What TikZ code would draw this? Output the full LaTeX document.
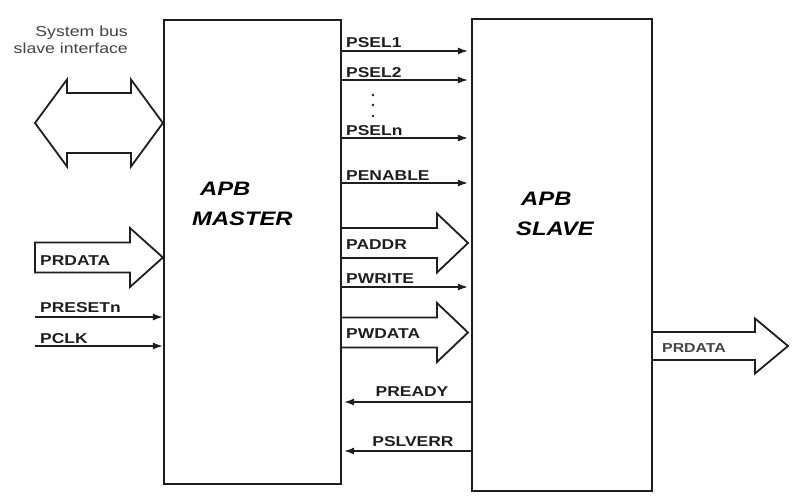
\documentclass[tikz,border=0pt]{standalone}
\usepackage{fontspec}
\setmainfont{Liberation Sans}
\newfontfamily\widefont[FakeStretch=1.22]{Liberation Sans}
\usetikzlibrary{arrows.meta}
\definecolor{ink}{HTML}{1E1E1E}
\definecolor{txt}{HTML}{1F1F1F}
\definecolor{soft}{HTML}{444444}
\begin{document}
\begin{tikzpicture}[x=1pt,y=-1pt,
  blockbox/.style={draw=ink, line width=2.2pt, fill=none, inner sep=0pt},
  sig/.style={draw=ink, line width=1.4pt, -{Latex[length=10pt,width=7pt]}},
  fat/.style={draw=ink, line width=1.8pt, line join=miter, fill=white},
  lbl/.style={text=txt, inner sep=0pt, font=\widefont\bfseries\fontsize{14.3}{14}\selectfont},
  title/.style={text=black, inner sep=0pt, font=\widefont\bfseries\itshape\fontsize{19.5}{19}\selectfont},
  note/.style={text=soft, inner sep=0pt, align=right, font=\widefont\fontsize{14.5}{17}\selectfont}
]
\useasboundingbox[fill=white] (0,0) rectangle (800,498);

% blocks
\node[blockbox, minimum width=177pt, minimum height=464pt] (master) at (252.5,252) {};
\node[blockbox, minimum width=180pt, minimum height=472pt] (slave) at (562,255) {};

\node[title, anchor=base west] (mt1) at (200,195) {APB};
\node[title, anchor=base west] (mt2) at (192,225) {MASTER};
\node[title, anchor=base west] (st1) at (521,205) {APB};
\node[title, anchor=base west] (st2) at (516,235) {SLAVE};

% system bus interface
\node[note, anchor=base east] (sb1) at (128,36) {System bus};
\node[note, anchor=base east] (sb2) at (128,53) {slave interface};
\draw[fat] (35,123) -- (67,79.5) -- (67,93) -- (131,93) -- (131,79.5)
  -- (master.west |- 0,123) -- (131,166.5) -- (131,153) -- (67,153) -- (67,166.5) -- cycle;

% PRDATA input
\draw[fat] (35,242.5) -- (130,242.5) -- (130,228) -- (master.west |- 0,257.5)
  -- (130,287) -- (130,272.5) -- (35,272.5) -- cycle;
\node[lbl, anchor=base west] (prdin) at (40,265) {PRDATA};

% PRESETn, PCLK
\coordinate (rst) at (35,317);
\coordinate (clk) at (35,346);
\draw[sig] (rst) -- (master.west |- rst);
\draw[sig] (clk) -- (master.west |- clk);
\node[lbl, anchor=base west] (rstl) at (40,312) {PRESETn};
\node[lbl, anchor=base west] (clkl) at (40,343) {PCLK};

% master -> slave single signals
\coordinate (y1) at (0,51);
\coordinate (y2) at (0,80);
\coordinate (yn) at (0,138);
\coordinate (ye) at (0,183);
\coordinate (yw) at (0,287);
\foreach \c in {y1,y2,yn,ye,yw}
  \draw[sig, shorten >=3pt] (master.east |- \c) -- (slave.west |- \c);
\node[lbl, anchor=base west] (l1) at (346,47) {PSEL1};
\node[lbl, anchor=base west] (l2) at (346,77) {PSEL2};
\node[lbl, anchor=base west] (ln) at (346,135) {PSELn};
\node[lbl, anchor=base west] (le) at (346,180) {PENABLE};
\node[lbl, anchor=base west] (lw) at (346,283) {PWRITE};
\foreach \yy in {95,105,116}
  \fill[ink] (373,\yy) circle (1.4pt);

% PADDR / PWDATA buses
\draw[fat] (master.east |- 0,228) -- (437,228) -- (437,213.5) -- (468,243)
  -- (437,272.5) -- (437,258) -- (master.east |- 0,258);
\node[lbl, anchor=base west] (la) at (346,249) {PADDR};
\draw[fat] (master.east |- 0,317.5) -- (437,317.5) -- (437,303) -- (468,332.5)
  -- (437,362) -- (437,347.5) -- (master.east |- 0,347.5);
\node[lbl, anchor=base west] (ld) at (346,338) {PWDATA};

% slave -> master
\coordinate (yr) at (0,402);
\coordinate (ys) at (0,451);
\draw[sig, shorten >=2pt] (slave.west |- yr) -- (master.east |- yr);
\draw[sig, shorten >=2pt] (slave.west |- ys) -- (master.east |- ys);
\node[lbl, anchor=base] (lr) at (412,396) {PREADY};
\node[lbl, anchor=base] (ls) at (413,446) {PSLVERR};

% PRDATA output
\draw[fat] (slave.east |- 0,332) -- (755,332) -- (755,318.5) -- (788,346)
  -- (755,373.5) -- (755,360) -- (slave.east |- 0,360);
\node[lbl, anchor=base west, text=soft, font=\widefont\bfseries\fontsize{13}{13}\selectfont] (lo) at (662,352) {PRDATA};
\end{tikzpicture}
\end{document}
